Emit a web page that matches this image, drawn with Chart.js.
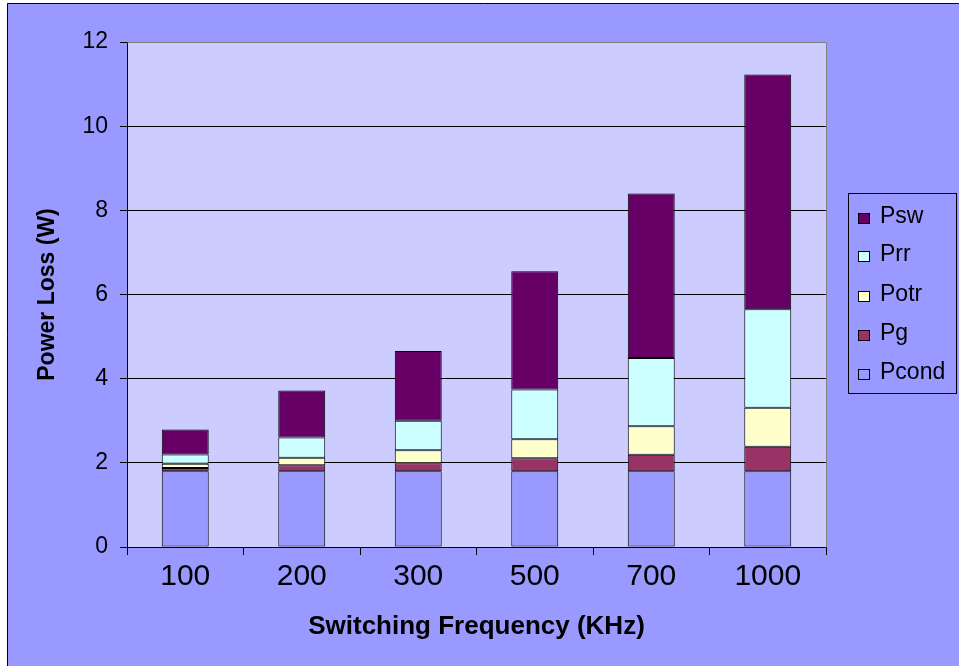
<!DOCTYPE html>
<html>
<head>
<meta charset="utf-8">
<script src="https://cdn.jsdelivr.net/npm/chart.js@4"></script>
<style>
html,body{margin:0;padding:0;background:#fff;}
canvas{display:block;}
</style>
</head>
<body>
<canvas id="c" width="959" height="666"></canvas>
<script>
const categories = ['100', '200', '300', '500', '700', '1000'];
const pcond = [1.8, 1.8, 1.8, 1.8, 1.8, 1.8];
const pg = [0.08, 0.14, 0.19, 0.31, 0.39, 0.58];
const potr = [0.10, 0.18, 0.31, 0.45, 0.68, 0.93];
const prr = [0.22, 0.48, 0.70, 1.18, 1.62, 2.34];
const psw = [0.59, 1.12, 1.66, 2.81, 3.91, 5.58];
const yTicks = [0, 2, 4, 6, 8, 10, 12];

const FONT = "'Liberation Sans', Arial, sans-serif";

const bgPlugin = {
  id: 'bg',
  beforeDraw(chart) {
    const ctx = chart.ctx;
    const a = chart.chartArea;
    ctx.save();
    ctx.fillStyle = '#ffffff';
    ctx.fillRect(0, 0, chart.width, chart.height);
    ctx.fillStyle = '#9999FF';
    ctx.fillRect(7, 3, chart.width - 7, chart.height - 3);
    ctx.strokeStyle = '#000';
    ctx.lineWidth = 1;
    ctx.beginPath();
    ctx.moveTo(7.5, chart.height);
    ctx.lineTo(7.5, 3.5);
    ctx.lineTo(chart.width, 3.5);
    ctx.stroke();
    ctx.fillStyle = '#CCCCFF';
    ctx.fillRect(a.left, a.top, a.right - a.left, a.bottom - a.top);
    ctx.restore();
  },
  afterDraw(chart) {
    const ctx = chart.ctx;
    const a = chart.chartArea;
    ctx.save();
    // plot border top/right
    ctx.strokeStyle = '#808080';
    ctx.lineWidth = 1;
    ctx.beginPath();
    ctx.moveTo(Math.round(a.left) + 0.5, Math.round(a.top) + 0.5);
    ctx.lineTo(Math.round(a.right) + 0.5, Math.round(a.top) + 0.5);
    ctx.lineTo(Math.round(a.right) + 0.5, Math.round(a.bottom) + 0.5);
    ctx.stroke();
    // legend
    const lx = 848, ly = 193, lw = 108, lh = 200;
    ctx.fillStyle = '#9999FF';
    ctx.fillRect(lx, ly, lw, lh);
    ctx.strokeStyle = '#000';
    ctx.strokeRect(lx + 0.5, ly + 0.5, lw, lh);
    const ds = chart.data.datasets.slice().reverse();
    const rows = [218, 256, 296, 335, 374];
    ctx.font = '23px ' + FONT;
    ctx.textBaseline = 'middle';
    ctx.textAlign = 'left';
    ds.forEach((d, i) => {
      const y = rows[i];
      ctx.fillStyle = d.backgroundColor;
      ctx.fillRect(858, y - 5, 12, 11);
      ctx.strokeStyle = '#000';
      ctx.strokeRect(858.5, y - 4.5, 11, 10);
      ctx.fillStyle = '#000';
      ctx.fillText(d.label, 880, y - 1);
    });
    ctx.restore();
  }
};

const mk = (label, data, color) => ({
  label, data, backgroundColor: color, borderColor: '#000', borderWidth: 1,
  borderSkipped: false, categoryPercentage: 1.0, barPercentage: 0.403
});

new Chart(document.getElementById('c'), {
  type: 'bar',
  data: {
    labels: categories,
    datasets: [
      mk('Pcond', pcond, '#9999FF'),
      mk('Pg', pg, '#993366'),
      mk('Potr', potr, '#FFFFCC'),
      mk('Prr', prr, '#CCFFFF'),
      mk('Psw', psw, '#660066')
    ]
  },
  plugins: [bgPlugin],
  options: {
    responsive: false,
    animation: false,
    devicePixelRatio: 1,
    layout: { padding: { left: 0, top: 42, right: 133, bottom: 0 } },
    plugins: { legend: { display: false }, tooltip: { enabled: false } },
    scales: {
      x: {
        stacked: true,
        offset: true,
        grid: { display: true, offset: true, drawOnChartArea: false, drawTicks: true, tickLength: 8, color: '#000' },
        border: { display: true, color: '#000' },
        ticks: { color: '#000', font: { family: FONT, size: 30 }, padding: 4, maxRotation: 0 },
        title: { display: true, text: 'Switching Frequency (KHz)', color: '#000',
                 font: { family: FONT, size: 26, weight: 'bold' }, padding: { top: 0, bottom: 24 } },
        afterFit(s) { s.height = 119; }
      },
      y: {
        stacked: true,
        min: 0, max: 12,
        afterBuildTicks(s) { s.ticks = yTicks.map(v => ({ value: v })); },
        grid: { color: (c) => (c.tick && c.tick.value === 12 ? '#808080' : '#000'), tickColor: '#000', tickLength: 7, drawTicks: true },
        border: { display: true, color: '#000' },
        ticks: { color: '#000', font: { family: FONT, size: 23 }, padding: 12 },
        title: { display: true, text: 'Power Loss (W)', color: '#000',
                 font: { family: FONT, size: 23, weight: 'bold' }, padding: { top: 34, bottom: 0 } },
        afterFit(s) { s.width = 127; }
      }
    }
  }
});
</script>
</body>
</html>
